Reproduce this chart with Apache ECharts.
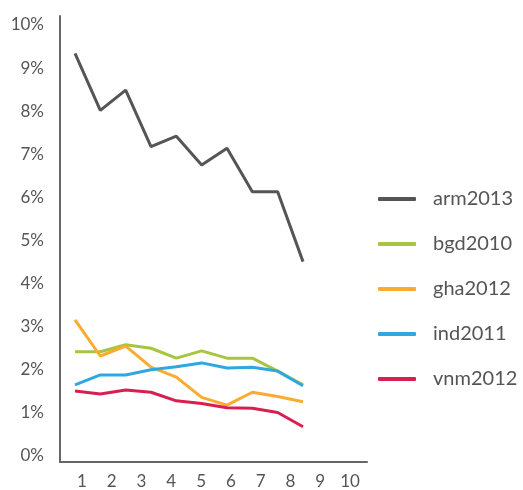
<!DOCTYPE html>
<html>
<head>
<meta charset="utf-8">
<script src="https://cdn.jsdelivr.net/npm/echarts@6/dist/echarts.min.js"></script>
<style>
html, body { margin: 0; padding: 0; background: #fff; }
#main { width: 523px; height: 490px; }
</style>
</head>
<body>
<div id="main"></div>
<script>
// 数据
var steps = ['1', '2', '3', '4', '5', '6', '7', '8', '9', '10'];
var xLabels = ['1', '2', '3', '4', '5', '6', '7', '8', '9', '10'];
var arm2013 = [9.34, 8.02, 8.49, 7.18, 7.42, 6.75, 7.14, 6.13, 6.13, 4.51];
var bgd2010 = [2.42, 2.42, 2.58, 2.50, 2.27, 2.44, 2.27, 2.27, 1.97, 1.65];
var gha2012 = [3.16, 2.32, 2.55, 2.06, 1.83, 1.36, 1.18, 1.48, 1.38, 1.26];
var ind2011 = [1.65, 1.88, 1.88, 2.00, 2.07, 2.16, 2.04, 2.06, 1.97, 1.63];
var vnm2012 = [1.51, 1.44, 1.53, 1.48, 1.28, 1.22, 1.12, 1.11, 1.01, 0.68];

var chart = echarts.init(document.getElementById('main'));

var axisColor = '#666';
var textColor = '#555';
var font = 'Lato';

function line(name, data, color) {
	return {
		name: name,
		type: 'line',
		xAxisIndex: 1,
		yAxisIndex: 1,
		data: data,
		symbol: 'none',
		lineStyle: { color: color, width: 3 },
		itemStyle: { color: color }
	};
}

var option = {
	animation: false,
	grid: [
		// 坐标轴框
		{ left: 60, top: 16, width: 307, height: 446 },
		// 数据区
		{ left: 75, top: 25, width: 228, height: 431 },
		// x 轴刻度标签
		{ left: 67, top: 16, width: 298, height: 446 }
	],
	legend: {
		orient: 'vertical',
		left: 378,
		top: 189,
		padding: 0,
		icon: 'roundRect',
		itemWidth: 38,
		itemHeight: 4,
		itemGap: 25,
		textStyle: { color: textColor, fontSize: 20, fontFamily: font, padding: [0, 0, 0, 12] }
	},
	xAxis: [{
		type: 'value', gridIndex: 0, min: 0, max: 1,
		axisLine: { show: true, onZero: false, lineStyle: { color: axisColor, width: 2 } },
		axisTick: { show: false }, axisLabel: { show: false }, splitLine: { show: false }
	}, {
		type: 'category', gridIndex: 1, data: steps, boundaryGap: false, show: false
	}, {
		type: 'category', gridIndex: 2, data: xLabels, boundaryGap: true,
		axisLine: { show: false }, axisTick: { show: false }, splitLine: { show: false },
		axisLabel: { color: textColor, fontSize: 17, fontFamily: font, margin: 12, interval: 0 }
	}],
	yAxis: [{
		type: 'value', gridIndex: 0, min: 0, max: 1,
		axisLine: { show: true, onZero: false, lineStyle: { color: axisColor, width: 2 } },
		axisTick: { show: false }, axisLabel: { show: false }, splitLine: { show: false }
	}, {
		type: 'value', gridIndex: 1, min: 0, max: 10, interval: 1,
		axisLine: { show: false }, axisTick: { show: false }, splitLine: { show: false },
		axisLabel: { color: textColor, fontSize: 17, fontFamily: font, margin: 31, formatter: '{value}%' }
	}, {
		type: 'value', gridIndex: 2, show: false
	}],
	series: [
		line('arm2013', arm2013, '#555555'),
		line('bgd2010', bgd2010, '#a7c540'),
		line('gha2012', gha2012, '#fbab2e'),
		line('ind2011', ind2011, '#2ea8df'),
		line('vnm2012', vnm2012, '#d81f4f')
	]
};

chart.setOption(option);
</script>
</body>
</html>
